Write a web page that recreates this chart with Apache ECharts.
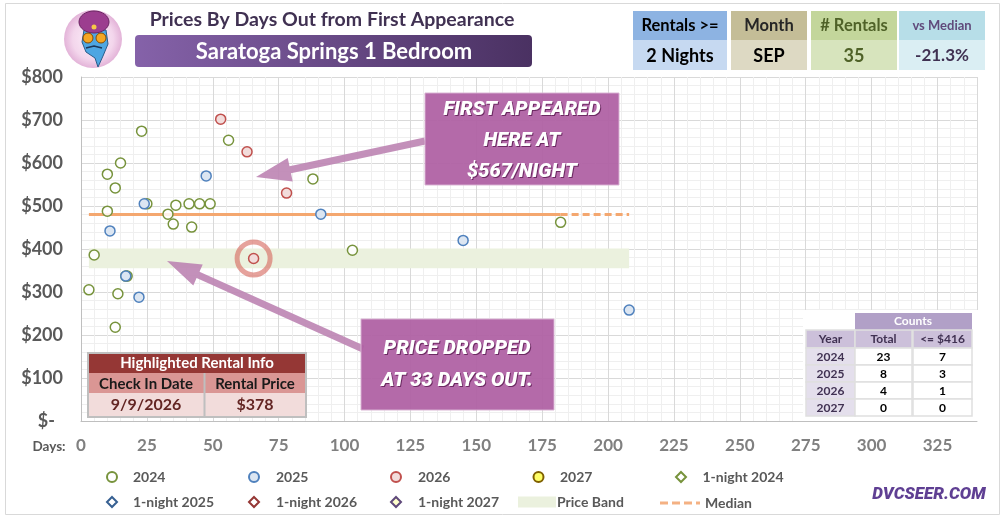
<!DOCTYPE html>
<html><head><meta charset="utf-8">
<script src="https://cdn.jsdelivr.net/npm/echarts@6/dist/echarts.min.js"></script>
<style>html,body{margin:0;padding:0;background:#fff}#c{width:1007px;height:519px}</style>
</head><body><div id="c"></div>
<script>
// ---- data ----
const days2024  = [23, 15, 10, 13, 10, 25, 36, 41, 45, 49, 33, 35, 42, 56, 88, 5, 103, 3, 17.5, 17, 14, 13, 182];
const price2024 = [674,600,574,542,488,505,502,505,505,505,481,458,451,653,563,386,397,305,337,337,296,218,462];
const days2025  = [47.5, 24, 11, 91, 17, 22, 145, 208];
const price2025 = [570, 505, 442, 481, 337, 288, 420, 258];
const days2026  = [53, 63, 78, 65.5];
const price2026 = [702, 626, 530, 378];
const highlightDay = [65.5];
const highlightPrice = [378];
const medianPrice = 480;
const medianSolidDays = [3, 182];
const medianDashDays = [182, 208];
const bandDays = [3, 208];
const bandPrices = [355, 401];
const xTicks = [0,25,50,75,100,125,150,175,200,225,250,275,300,325];
const yTicks = [0,100,200,300,400,500,600,700,800];
const countYears = ['2024','2025','2026','2027'];
const countTotal = [23, 8, 4, 0];
const countBelow = [7, 3, 1, 0];

const chart = echarts.init(document.getElementById('c'));
const zip = (a,b)=>a.map((v,i)=>[v,b[i]]);
const F = 'Lato, "Open Sans", sans-serif';

function arrowPts(x1,y1,x2,y2,hl,hw,sw){
  const dx=x2-x1, dy=y2-y1, L=Math.hypot(dx,dy), ux=dx/L, uy=dy/L, px=-uy, py=ux;
  const bx=x2-ux*hl, by=y2-uy*hl;
  return [[x1+px*sw/2,y1+py*sw/2],[bx+px*sw/2,by+py*sw/2],[bx+px*hw/2,by+py*hw/2],[x2,y2],
          [bx-px*hw/2,by-py*hw/2],[bx-px*sw/2,by-py*sw/2],[x1-px*sw/2,y1-py*sw/2]];
}
function txt(x,y,text,font,fill,align){
  return {type:'text', z:120, style:{x:x,y:y,text:text,font:font,fill:fill,
    align:align||'center', textAlign:align||'center', verticalAlign:'middle', textVerticalAlign:'middle'}};
}
function rect(x,y,w,h,fill,stroke,lw,r){
  return {type:'rect', z:110, shape:{x:x,y:y,width:w,height:h,r:r||0},
    style:{fill:fill, stroke:stroke||null, lineWidth:lw||0}};
}

const g = [];
// outer frame
g.push({type:'rect', z:1, shape:{x:5.5,y:3.5,width:994,height:511}, style:{fill:'none',stroke:'#d9d9d9',lineWidth:1}});
// logo
g.push({type:'circle', z:110, shape:{cx:93,cy:39,r:29},
  style:{fill:new echarts.graphic.RadialGradient(0.5,0.5,0.5,[{offset:0,color:'#fdf1fa'},{offset:0.7,color:'#f3d6ec'},{offset:1,color:'#e3b3d8'}])}});
g.push({type:'polygon', z:111, shape:{points:[[84,30],[106,30],[108,44],[103,56],[98,67],[95,58],[86,52],[82,42]]}, style:{fill:'#4ea6e2',stroke:'#2b5d8a',lineWidth:1}});
g.push({type:'ellipse', z:112, shape:{cx:94,cy:22,rx:15,ry:11}, style:{fill:'#9c3d8f',stroke:'#6b2462',lineWidth:1}});
g.push({type:'circle', z:113, shape:{cx:94,cy:27,r:2.5}, style:{fill:'#f7c948'}});
g.push({type:'circle', z:113, shape:{cx:88,cy:38,r:5}, style:{fill:'#f6a623',stroke:'#8a4b00',lineWidth:1}});
g.push({type:'circle', z:113, shape:{cx:101,cy:38,r:5}, style:{fill:'#f6a623',stroke:'#8a4b00',lineWidth:1}});
g.push({type:'polyline', z:113, shape:{points:[[86,48],[94,46],[102,48]]}, style:{stroke:'#1d3557',lineWidth:1.5,fill:'none'}});
// title
g.push(txt(332,20,'Prices By Days Out from First Appearance','bold 19.5px '+F,'#403152'));
g.push({type:'rect', z:110, shape:{x:135,y:35,width:397,height:32,r:4},
  style:{fill:new echarts.graphic.LinearGradient(0,0,1,0,[{offset:0,color:'#8562a9'},{offset:1,color:'#4a3162'}])}});
g.push(txt(334,51.5,'Saratoga Springs 1 Bedroom','bold 22px '+F,'#ffffff'));
// top-right table
const tcols = [
  {x:633,w:94,h1:'#8db3e2',h2:'#c6d9f1',t1:'Rentals >=',t2:'2 Nights',c1:'#000',c2:'#000',f1:'bold 16.5px ',f2:'bold 18px '},
  {x:731,w:76,h1:'#c4bd97',h2:'#ddd9c3',t1:'Month',t2:'SEP',c1:'#262626',c2:'#000',f1:'bold 16.5px ',f2:'bold 18px '},
  {x:811,w:86,h1:'#c3d69b',h2:'#d7e4bd',t1:'# Rentals',t2:'35',c1:'#4f6228',c2:'#4f6228',f1:'bold 16.5px ',f2:'bold 18px '},
  {x:899,w:86,h1:'#b7dee8',h2:'#daeef3',t1:'vs Median',t2:'-21.3%',c1:'#604a7b',c2:'#403152',f1:'bold 13px ',f2:'bold 17px '}
];
tcols.forEach(c=>{
  g.push(rect(c.x,11,c.w,29,c.h1));
  g.push(rect(c.x,40,c.w,30,c.h2));
  g.push(txt(c.x+c.w/2,26,c.t1,c.f1+F,c.c1));
  g.push(txt(c.x+c.w/2,56,c.t2,c.f2+F,c.c2));
});
// Days label
g.push(txt(49,447,'Days:','bold 13.5px '+F,'#595959'));
// highlighted rental info
g.push(rect(88,353,218,64,'#ffffff','#bfbfbf',2));
g.push(rect(89,354,216,19,'#953735'));
g.push(rect(89,373,115,20,'#da9694'));
g.push(rect(205,373,100,20,'#da9694'));
g.push(rect(89,393,115,23,'#f2dcdb'));
g.push(rect(205,393,100,23,'#f2dcdb'));
g.push({type:'line', z:115, shape:{x1:204.5,y1:373,x2:204.5,y2:417}, style:{stroke:'#bfbfbf',lineWidth:2}});
g.push(txt(197,363.5,'Highlighted Rental Info','bold 15px '+F,'#ffffff'));
g.push(txt(146,384,'Check In Date','bold 15px '+F,'#1a1a1a'));
g.push(txt(255,384,'Rental Price','bold 15px '+F,'#1a1a1a'));
g.push(txt(146,405,'9/9/2026','bold 16px '+F,'#632523'));
g.push(txt(255,405,'$378','bold 16px '+F,'#632523'));
// counts table
g.push(rect(803,310,175,111,'#ffffff'));
g.push(rect(855,313,117,17,'#b1a0c7'));
g.push(txt(913,321.5,'Counts','bold 12px '+F,'#ffffff'));
const cx = [806,855,913], cw=[49,57,59];
const hdr = ['Year','Total','<= $416'];
hdr.forEach((h,i)=>{ g.push(rect(cx[i],330,cw[i],18,'#ccc0da','#e0e0e0',1.5)); g.push(txt(cx[i]+cw[i]/2,339.5,h,'bold 12px '+F,'#403152')); });
countYears.forEach((y,r)=>{
  const yy = 348 + r*17;
  g.push(rect(cx[0],yy,cw[0],17,'#e4dfec','#e0e0e0',1.5));
  g.push(rect(cx[1],yy,cw[1],17,'#ffffff','#e0e0e0',1.5));
  g.push(rect(cx[2],yy,cw[2],17,'#ffffff','#e0e0e0',1.5));
  g.push(txt(cx[0]+cw[0]/2,yy+9,y,'bold 12px '+F,'#403152'));
  g.push(txt(cx[1]+cw[1]/2,yy+9,String(countTotal[r]),'bold 12px '+F,'#000'));
  g.push(txt(cx[2]+cw[2]/2,yy+9,String(countBelow[r]),'bold 12px '+F,'#000'));
});
// annotations
const AF = 'italic 900 20px Roboto, "DejaVu Sans", sans-serif';
g.push({type:'polygon', z:105, shape:{points:arrowPts(425,141,256,177,35,24,7)}, style:{fill:'#bd84b3',opacity:0.9}});
g.push({type:'polygon', z:105, shape:{points:arrowPts(363,349,167,261,34,23,7)}, style:{fill:'#bd84b3',opacity:0.9}});
g.push({type:'rect', z:108, shape:{x:425,y:93,width:194,height:92}, style:{fill:'#b062a4',opacity:0.95,stroke:'#d9b3d3',lineWidth:1}});
g.push({type:'rect', z:108, shape:{x:361,y:319,width:193,height:91}, style:{fill:'#b062a4',opacity:0.95,stroke:'#d9b3d3',lineWidth:1}});
[['FIRST APPEARED',110],['HERE AT',141],['$567/NIGHT',172]].forEach(a=>{
  g.push(txt(523,a[1]+1,a[0],AF,'#6d2a63'));
  g.push(txt(522,a[1],a[0],AF,'#ffffff'));
});
[['PRICE DROPPED',349],['AT 33 DAYS OUT.',381]].forEach(a=>{
  g.push(txt(458,a[1]+1,a[0],AF,'#6d2a63'));
  g.push(txt(457,a[1],a[0],AF,'#ffffff'));
});
g.push(txt(929,495,'DVCSEER.COM','italic 900 17px Roboto, sans-serif','#5f3f93'));

// legends
const LT = {fontFamily:F, fontWeight:'bold', fontSize:14, color:'#595959'};
function leg(name, c, t, top){
  return {show:true, data:[name], left:c-5, top:top, padding:0, itemWidth:10, itemHeight:10,
    textStyle:Object.assign({}, LT, {padding:[0,0,0,t-c-10]}), selectedMode:false};
}
const r1=470, r2=495;
const legends = [
  leg('2024',111,132,r1), leg('2025',253,275,r1), leg('2026',395,417,r1),
  leg('2027',537.5,559,r1), leg('1-night 2024',680,701.5,r1),
  leg('1-night 2025',111,132,r2), leg('1-night 2026',253,275,r2), leg('1-night 2027',395,417,r2),
  {show:true, data:['Price Band'], left:518, top:r2, padding:0, itemWidth:38, itemHeight:11, icon:'rect', textStyle:Object.assign({},LT,{padding:[0,0,0,-4]}), selectedMode:false, itemStyle:{color:'#ebf1de'}},
  {show:true, data:[{name:'Median', icon:'path://M0,0h8v3h-8z M12,0h8v3h-8z M24,0h8v3h-8z M36,0h4v3h-4z'}], left:660, top:r2+1, padding:0, itemWidth:40, itemHeight:3, textStyle:LT, selectedMode:false, itemStyle:{color:'#f4b183'}}
];

function sc(name, data, fill, border, sym){
  return {type:'scatter', name:name, data:data, symbol:sym||'circle', symbolSize: 10,
    itemStyle:{color:fill, borderColor:border, borderWidth:1.5, opacity:1}, z:5, emphasis:{disabled:true}};
}

const option = {
  animation:false,
  backgroundColor:'#ffffff',
  textStyle:{fontFamily:F},
  grid:{left:81, right:30, top:77, bottom:98, containLabel:false},
  legend: legends,
  xAxis:{type:'value', min:0, max:340, interval:25,
    axisLine:{show:true, lineStyle:{color:'#bfbfbf'}}, axisTick:{show:false},
    axisLabel:{margin:16, fontSize:17, fontWeight:'bold', color:'#808080', fontFamily:F,
      formatter:v=> xTicks.indexOf(v)>=0 ? String(v) : ''},
    splitLine:{show:true, lineStyle:{color:'#d9d9d9'}},
    minorTick:{show:false, splitNumber:5},
    minorSplitLine:{show:true, lineStyle:{color:'#efefef'}}},
  yAxis:{type:'value', min:0, max:800, interval:100,
    axisLine:{show:true, lineStyle:{color:'#bfbfbf'}}, axisTick:{show:false},
    axisLabel:{margin:18, fontSize:18, fontWeight:'bold', color:'#595959', fontFamily:F,
      formatter:v=> yTicks.indexOf(v)<0 ? '' : (v===0 ? '{z|$-}' : '$'+v),
      rich:{z:{fontSize:18, fontWeight:'bold', color:'#595959', fontFamily:F, padding:[0,8,0,0]}}},
    splitLine:{show:true, lineStyle:{color:'#d9d9d9'}},
    minorTick:{show:false, splitNumber:5},
    minorSplitLine:{show:true, lineStyle:{color:'#efefef'}}},
  series:[
    {type:'line', name:'Price Band', data:[[bandDays[0],bandPrices[0]]], symbol:'none', color:'#ebf1de',
      lineStyle:{width:0,color:'#ebf1de'}, z:1,
      markArea:{silent:true, itemStyle:{color:'#ebf1de'},
        data:[[{coord:[bandDays[0],bandPrices[0]]},{coord:[bandDays[1],bandPrices[1]]}]]}},
    {type:'line', name:'Median solid', data:medianSolidDays.map(d=>[d,medianPrice]), symbol:'none', z:2,
      lineStyle:{color:'#f4a76f', width:3}, color:'#f4a76f'},
    {type:'line', name:'Median', data:medianDashDays.map(d=>[d,medianPrice]), symbol:'none', z:2,
      lineStyle:{color:'#f4a76f', width:3, type:[7,4]}, color:'#f4a76f'},
    sc('2024', zip(days2024,price2024), 'rgba(255,255,255,0.85)', '#77933c'),
    sc('2025', zip(days2025,price2025), '#dce6f2', '#4f81bd'),
    sc('2026', zip(days2026,price2026), '#f2dcdb', '#c0504d'),
    sc('2027', [], '#ffff66', '#7f6000'),
    sc('1-night 2024', [], '#ffffff', '#77933c', 'diamond'),
    sc('1-night 2025', [], '#ffffff', '#376092', 'diamond'),
    sc('1-night 2026', [], '#ffffff', '#953735', 'diamond'),
    sc('1-night 2027', [], '#ffffcc', '#5f497a', 'diamond'),
    {type:'scatter', name:'highlight', data:zip(highlightDay,highlightPrice), symbol:'circle', symbolSize:33, z:6,
      itemStyle:{color:'rgba(0,0,0,0)', borderColor:'rgba(214,100,90,0.75)', borderWidth:5}, emphasis:{disabled:true}}
  ],
  graphic: g
};
chart.setOption(option);
</script>
</body></html>
